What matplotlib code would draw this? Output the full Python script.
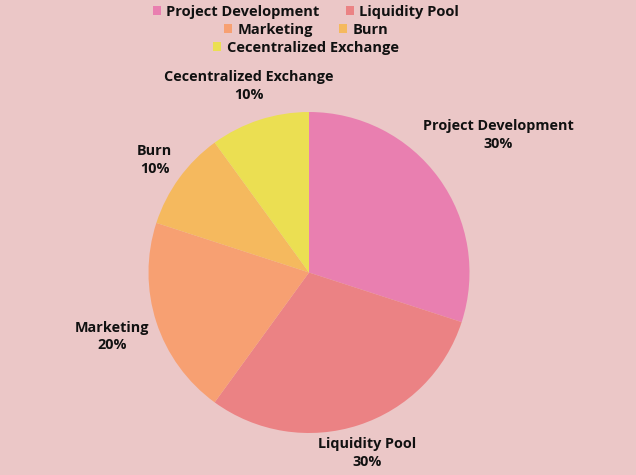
import numpy as np
import matplotlib
matplotlib.use("Agg")
import matplotlib.pyplot as plt
from matplotlib.patches import Patch

categories = ["Project Development", "Liquidity Pool", "Marketing", "Burn", "Cecentralized Exchange"]
shares = [30, 30, 20, 10, 10]
colors = ["#e97fb0", "#eb8284", "#f7a072", "#f5b95e", "#ebdf52"]
label_dist = [1.46, 1.18, 1.29, 1.19, 1.22]  # label centre distance, in pie radii

BG = "#ebc7c7"
TEXT = "#111111"
plt.rcParams["font.family"] = ["Open Sans", "DejaVu Sans"]

W, H = 636, 475
fig = plt.figure(figsize=(W / 100, H / 100), dpi=100, facecolor=BG)
ax = fig.add_axes([0, 0, 1, 1])
ax.set_aspect("equal")

cx, cy, r = 309, H - 272.5, 160.5
wedges, _ = ax.pie(shares, colors=colors, startangle=90, counterclock=False,
                   center=(cx, cy), radius=r, frame=True,
                   wedgeprops=dict(linewidth=0))
ax.set_xlim(0, W)
ax.set_ylim(0, H)
ax.axis("off")

for w, name, val, k in zip(wedges, categories, shares, label_dist):
    mid = np.deg2rad((w.theta1 + w.theta2) / 2)
    x = cx + k * r * np.cos(mid)
    y = cy + k * r * np.sin(mid)
    ax.text(x, y, f"{name}\n{val}%", ha="center", va="center", fontsize=10.4,
            fontweight="bold", color=TEXT, linespacing=1.35)

# legend wraps into three centred rows
rows = [[0, 1], [2, 3], [4]]
row_y = [H - 12, H - 30, H - 48]
for idx, yy in zip(rows, row_y):
    handles = [Patch(facecolor=colors[i], edgecolor="none") for i in idx]
    leg = fig.legend(handles, [categories[i] for i in idx], loc="center",
                     bbox_to_anchor=(306 / W, yy / H), ncol=len(idx), frameon=False,
                     handlelength=0.55, handleheight=0.55, handletextpad=0.35,
                     columnspacing=1.8, borderpad=0, borderaxespad=0,
                     prop=dict(family=["Open Sans", "DejaVu Sans"], weight="bold", size=10.5))
    for t in leg.get_texts():
        t.set_color(TEXT)

fig.savefig("out.png", dpi=100, facecolor=BG)
